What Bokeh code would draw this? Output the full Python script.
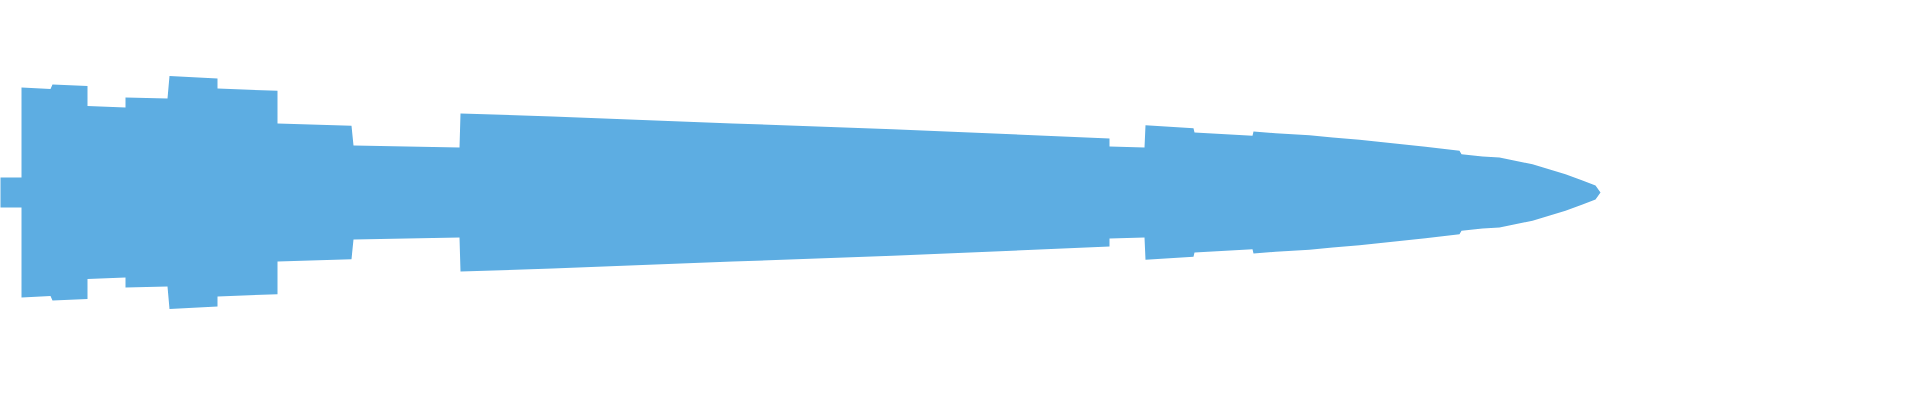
from bokeh.plotting import figure
from bokeh.models import Range1d, ColumnDataSource
from bokeh.embed import file_html
from bokeh.resources import INLINE

# Breakpoints along the shape (x position) and the half-thickness at each one.
pos = [0, 1, 29, 29, 58, 60, 95, 95, 133, 133, 175, 177, 225, 225, 285, 285, 359,
       361, 467, 468, 560, 740, 900, 1117, 1117, 1152, 1153, 1201, 1202, 1260,
       1261, 1283, 1317, 1340, 1367, 1400, 1433, 1467, 1469, 1490, 1507, 1540,
       1573, 1590, 1603, 1608]
half = [10, 15, 15, 105, 103.5, 108, 106.5, 86.5, 85, 95, 94, 116.5, 114, 104,
        101.7, 69, 66.7, 47, 45, 79, 76, 69, 63.3, 54, 46, 45, 67.3, 64.3, 60,
        56.7, 61, 59.3, 57.3, 55, 52.7, 49.3, 45.7, 41.7, 38.3, 36, 35, 28.3,
        18.3, 12, 7, 0]

upper = [h for h in half]
lower = [-h for h in half]

src = ColumnDataSource(dict(x=pos, top=upper, bottom=lower))

p = figure(width=1904, height=384, output_backend="svg", toolbar_location=None,
           x_range=Range1d(8, 1912), y_range=Range1d(-192, 192),
           min_border=0, min_border_left=0, min_border_right=0,
           min_border_top=0, min_border_bottom=0)
p.title.visible = False
p.axis.visible = False
p.grid.visible = False
p.outline_line_color = None
p.background_fill_color = "white"
p.border_fill_color = "white"

p.varea(x="x", y1="bottom", y2="top", source=src, fill_color="#5dade2")

open("out.html", "w").write(file_html(p, INLINE))
